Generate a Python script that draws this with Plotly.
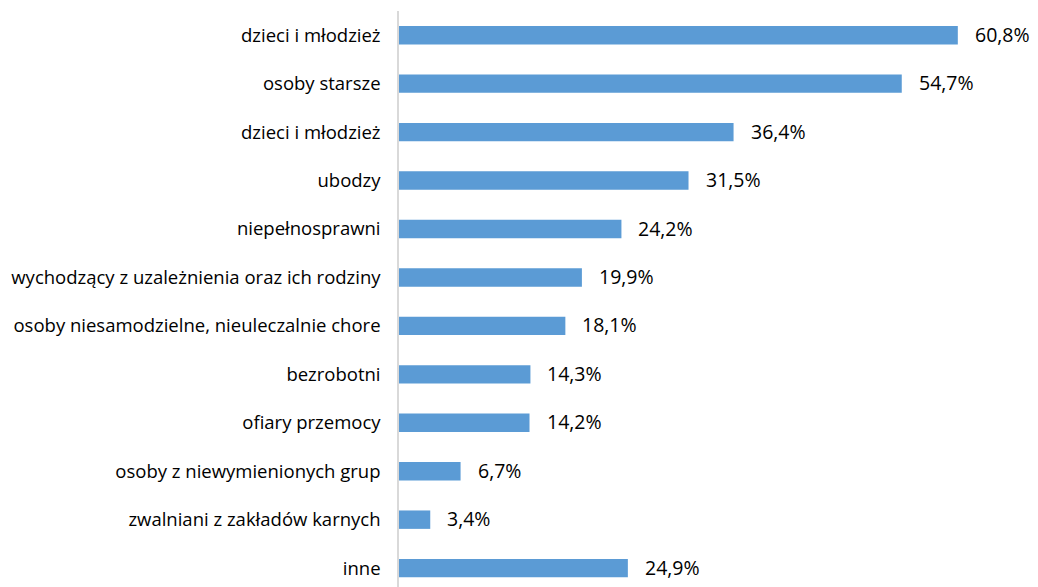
import plotly.graph_objects as go

categories = [
    "dzieci i młodzież",
    "osoby starsze",
    "dzieci i młodzież",
    "ubodzy",
    "niepełnosprawni",
    "wychodzący z uzależnienia oraz ich rodziny",
    "osoby niesamodzielne, nieuleczalnie chore",
    "bezrobotni",
    "ofiary przemocy",
    "osoby z niewymienionych grup",
    "zwalniani z zakładów karnych",
    "inne",
]
values = [60.8, 54.7, 36.4, 31.5, 24.2, 19.9, 18.1, 14.3, 14.2, 6.7, 3.4, 24.9]
labels = [f"{v:.1f}%".replace(".", ",") for v in values]
positions = list(range(len(categories)))

FONT = "'Open Sans', 'Noto Sans', sans-serif"

fig = go.Figure(
    go.Bar(
        x=values,
        y=positions,
        orientation="h",
        marker=dict(color="#5B9BD5", line=dict(width=0)),
        width=0.38,
        hoverinfo="skip",
    )
)

for p, v, t in zip(positions, values, labels):
    fig.add_annotation(
        x=v, y=p, xref="x", yref="y", text=t, showarrow=False,
        xanchor="left", yanchor="middle", xshift=15, yshift=1,
        font=dict(family=FONT, size=19.5, color="#000000"),
    )

fig.update_layout(
    width=1038,
    height=587,
    margin=dict(l=391, r=22, t=3, b=8),
    paper_bgcolor="white",
    plot_bgcolor="white",
    showlegend=False,
    font=dict(family=FONT, size=16, color="#000000"),
)
fig.update_xaxes(
    range=[0, 68], showgrid=False, zeroline=False, showticklabels=False,
    showline=False, fixedrange=True,
)
fig.update_yaxes(
    range=[11.39, -0.5],
    tickmode="array", tickvals=positions, ticktext=categories,
    showgrid=False, zeroline=False, showline=True, linecolor="#D9D9D9",
    linewidth=1.5, ticks="", ticklabelstandoff=13,
    tickfont=dict(family=FONT, size=18.5, color="#000000"),
)

fig.write_html("out.html")
